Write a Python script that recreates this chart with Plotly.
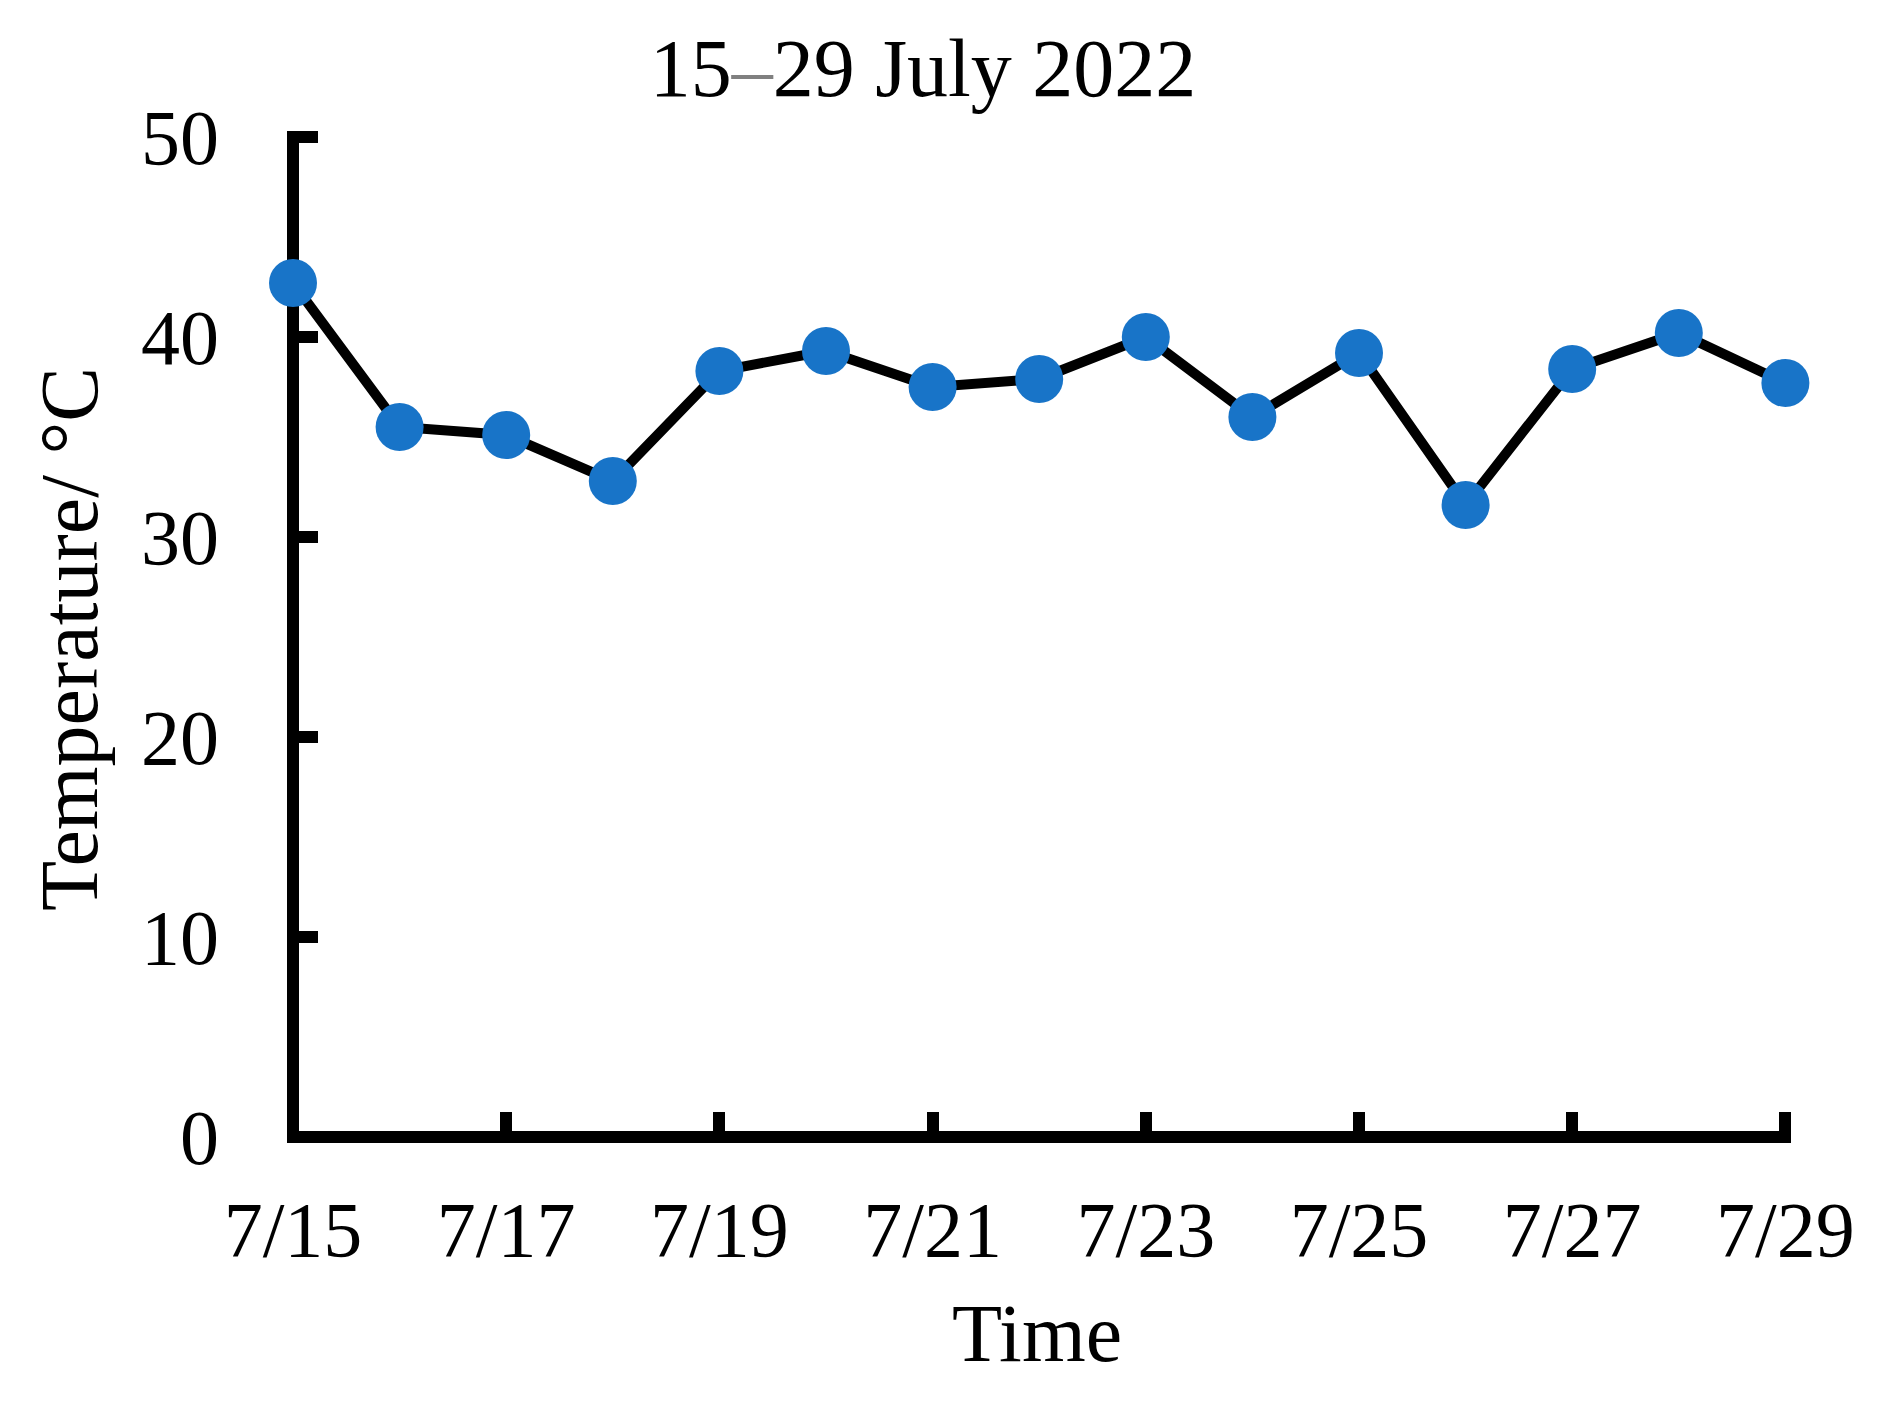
"""15–29 July 2022 の日別気温を折れ線 + マーカーで描く。

軸線は zeroline で描く（データ位置 0 が線の中心に来るように）。
ページ body の 8px 余白ぶん、図のサイズを小さめにしている。
出力: out.html
"""

import plotly.graph_objects as go

# ---------- データ ----------
DAY_LABELS = [
    "7/15", "7/16", "7/17", "7/18", "7/19", "7/20", "7/21", "7/22",
    "7/23", "7/24", "7/25", "7/26", "7/27", "7/28", "7/29",
]
TEMPERATURE = [
    42.7, 35.5, 35.1, 32.8, 38.3,
    39.3, 37.5, 37.9, 40.0, 36.0,
    39.2, 31.6, 38.4, 40.2, 37.7,
]
Y_TICKS = [0, 10, 20, 30, 40, 50]

# ---------- 表示設定 ----------
FONT = "Liberation Serif, Times New Roman, serif"
MARKER_COLOR = "#1874c8"
BLACK = "#000000"

day_index = list(range(len(DAY_LABELS)))

# ---------- Figure ----------
fig = go.Figure()
fig.add_trace(go.Scatter(
    x=day_index,
    y=TEMPERATURE,
    mode="lines+markers",
    line=dict(color=BLACK, width=10),
    marker=dict(color=MARKER_COLOR, size=48, line_width=0),
    cliponaxis=False,
    showlegend=False,
))

axis_common = dict(
    showline=False,
    zeroline=True, zerolinecolor=BLACK, zerolinewidth=12,
    ticks="inside", ticklen=31, tickwidth=12, tickcolor=BLACK,
    showgrid=False,
    automargin=False,
    layer="below traces",
    tickfont=dict(family=FONT, size=78, color=BLACK),
)

fig.update_xaxes(
    **axis_common,
    range=[-0.0563, 14.015],
    tickvals=day_index[::2],
    ticktext=DAY_LABELS[::2],
    ticklabelstandoff=34,
    title=dict(text="Time", font=dict(family=FONT, size=82, color=BLACK), standoff=31),
)
fig.update_yaxes(
    **axis_common,
    range=[-0.3, 50.1],
    tickvals=Y_TICKS,
    ticklabelstandoff=67,
    title=dict(text="Temperature/ °C", font=dict(family=FONT, size=82, color=BLACK), standoff=16),
)

fig.update_layout(
    width=1877, height=1386,
    margin=dict(l=279, r=98, t=127, b=251),
    plot_bgcolor="#ffffff",
    paper_bgcolor="#ffffff",
    font=dict(family=FONT, color=BLACK),
    title=dict(
        text='15<span style="color:#808080">–</span>29 July 2022',
        font=dict(family=FONT, size=82, color=BLACK),
        x=0.4875, xanchor="center",
        y=0.9574, yanchor="middle", yref="container",
    ),
)

fig.write_html("out.html")
